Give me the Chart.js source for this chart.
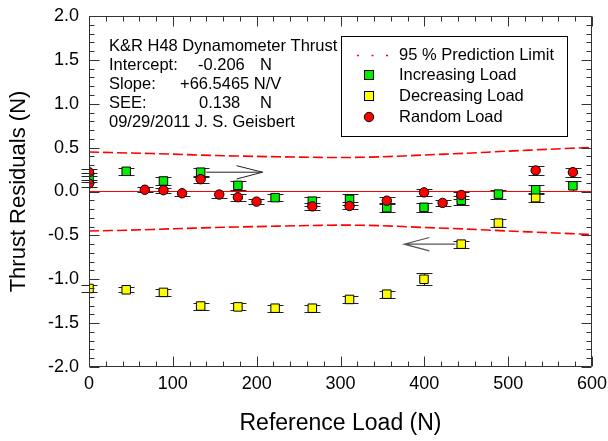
<!DOCTYPE html>
<html>
<head>
<meta charset="utf-8">
<script src="https://cdn.jsdelivr.net/npm/chart.js@4.4.1/dist/chart.umd.min.js"></script>
<style>
  html, body { margin: 0; padding: 0; background: #fff; }
</style>
</head>
<body>
<canvas id="thrustChart" width="608" height="441"></canvas>
<script>
// --- data ---
var incLoad  = [0, 44.4, 88.8, 133.2, 177.6, 222, 266.4, 310.8, 355.2, 399.6, 444, 488.4, 532.8, 577.2];
var incResid = [0.16, 0.23, 0.12, 0.22, 0.07, -0.07, -0.11, -0.09, -0.185, -0.18, -0.10, -0.03, 0.02, 0.065];
var incErr   = [0.05, 0.04, 0.05, 0.05, 0.05, 0.04, 0.05, 0.06, 0.05, 0.05, 0.05, 0.05, 0.05, 0.06];

var decLoad  = [0, 44.4, 88.8, 133.2, 177.6, 222, 266.4, 310.8, 355.2, 399.6, 444, 488.4, 532.8];
var decResid = [-1.105, -1.12, -1.15, -1.305, -1.315, -1.33, -1.33, -1.23, -1.17, -1.0, -0.6, -0.36, -0.07];
var decErr   = [0.04, 0.03, 0.04, 0.04, 0.04, 0.04, 0.04, 0.04, 0.04, 0.07, 0.04, 0.05, 0.05];

var randLoad  = [0, 0, 66.6, 88.8, 111, 133.2, 155.4, 177.6, 199.8, 266.4, 310.8, 355.2, 399.6, 421.8, 444, 532.8, 577.2];
var randResid = [0.22, 0.09, 0.02, 0.015, -0.02, 0.14, -0.035, -0.065, -0.115, -0.17, -0.165, -0.105, -0.01, -0.13, -0.04, 0.24, 0.22];
var randErr   = [0.04, 0.04, 0.03, 0.03, 0.03, 0.04, 0.04, 0.04, 0.03, 0.04, 0.04, 0.04, 0.04, 0.03, 0.04, 0.05, 0.05];

var limLoad  = [0, 50, 100, 150, 200, 250, 300, 350, 400, 450, 500, 550, 600];
var limUpper = [0.450, 0.438, 0.426, 0.410, 0.400, 0.392, 0.387, 0.396, 0.416, 0.436, 0.460, 0.482, 0.503];
var limLower = [-0.450, -0.440, -0.425, -0.410, -0.400, -0.390, -0.383, -0.390, -0.410, -0.428, -0.450, -0.470, -0.490];

var zeroLoad  = [0, 600];
var zeroResid = [0, 0];

// annotation arrows (null = pen up)
var arrow1X = [140, 207, null, 176, 207, 176];
var arrow1Y = [0.22, 0.22, null, 0.294, 0.22, 0.142];
var arrow2X = [437, 376, null, 406, 376, 406];
var arrow2Y = [-0.6, -0.6, null, -0.524, -0.6, -0.676];

var xTicks = [0, 100, 200, 300, 400, 500, 600];
var yTicks = [-2.0, -1.5, -1.0, -0.5, 0.0, 0.5, 1.0, 1.5, 2.0];

var noteLines = [
    ['K&R H48 Dynamometer Thrust'],
    ['Intercept:', '-0.206', 'N'],
    ['Slope:', '+66.5465 N/V'],
    ['SEE:', '0.138', 'N'],
    ['09/29/2011 J. S. Geisbert']
];
var legendLabels = ['95 % Prediction Limit', 'Increasing Load', 'Decreasing Load', 'Random Load'];

var FONT = "'Liberation Sans', Arial, Helvetica, sans-serif";

function pts(xs, ys) {
    return xs.map(function (x, i) {
        return { x: x === null ? 0 : x, y: ys[i] };
    });
}

// error bars drawn under the markers
var errorBars = {
    id: 'errorBars',
    beforeDatasetsDraw: function (chart) {
        var ctx = chart.ctx;
        var xs = chart.scales.x, ys = chart.scales.y;
        ctx.save();
        ctx.strokeStyle = '#222';
        ctx.lineWidth = 1;
        chart.data.datasets.forEach(function (ds) {
            if (!ds.errors) return;
            ds.data.forEach(function (p, i) {
                var px = Math.round(xs.getPixelForValue(p.x)) + 0.5;
                var top = Math.round(ys.getPixelForValue(p.y + ds.errors[i])) + 0.5;
                var bot = Math.round(ys.getPixelForValue(p.y - ds.errors[i])) + 0.5;
                ctx.beginPath();
                ctx.moveTo(px, top); ctx.lineTo(px, bot);
                ctx.moveTo(px - 8, top); ctx.lineTo(px + 8, top);
                ctx.moveTo(px - 8, bot); ctx.lineTo(px + 8, bot);
                ctx.stroke();
            });
        });
        ctx.restore();
    }
};

// frame with inward ticks on all four sides
var frameTicks = {
    id: 'frameTicks',
    afterDatasetsDraw: function (chart) {
        var ctx = chart.ctx, a = chart.chartArea;
        var xs = chart.scales.x, ys = chart.scales.y;
        ctx.save();
        ctx.strokeStyle = '#333';
        ctx.lineWidth = 1;
        ctx.beginPath();
        var L = Math.round(a.left) + 0.5, R = Math.round(a.right) - 0.5;
        var T = Math.round(a.top) + 0.5, B = Math.round(a.bottom) - 0.5;
        ctx.rect(L, T, R - L, B - T);
        var v, p, len;
        for (v = 0; v <= 600.001; v += 20) {
            p = Math.round(xs.getPixelForValue(v)) + 0.5;
            len = (Math.round(v) % 100 === 0) ? 10 : 5;
            ctx.moveTo(p, B); ctx.lineTo(p, B - len);
            ctx.moveTo(p, T); ctx.lineTo(p, T + len);
        }
        for (var k = -20; k <= 20; k++) {
            p = Math.round(ys.getPixelForValue(k / 10)) + 0.5;
            len = (k % 5 === 0) ? 10 : 5;
            ctx.moveTo(L, p); ctx.lineTo(L + len, p);
            ctx.moveTo(R, p); ctx.lineTo(R - len, p);
        }
        ctx.stroke();
        ctx.restore();
    }
};

// note text block and legend box
var notesAndLegend = {
    id: 'notesAndLegend',
    afterDraw: function (chart) {
        var ctx = chart.ctx;
        ctx.save();
        ctx.fillStyle = '#000';
        ctx.font = '16.5px ' + FONT;
        ctx.textBaseline = 'middle';
        var rowY = [46, 65, 84, 103, 122];
        var colX = {
            1: [109, 198, 260],
            2: [109, 180],
            3: [109, 199, 260]
        };
        noteLines.forEach(function (parts, r) {
            var cols = colX[r] || [109];
            parts.forEach(function (t, c) {
                ctx.fillText(t, cols[c], rowY[r]);
            });
        });

        // legend box
        ctx.fillStyle = '#fff';
        ctx.fillRect(341, 36, 226, 100);
        ctx.strokeStyle = '#000';
        ctx.lineWidth = 1;
        ctx.strokeRect(341.5, 36.5, 226, 100);

        var ly = [55, 75, 96, 117];
        var sx = 369;
        // dotted prediction limit symbol
        ctx.strokeStyle = '#ff0000';
        ctx.lineWidth = 1.5;
        [358, 372.5, 387].forEach(function (dx) {
            ctx.beginPath();
            ctx.moveTo(dx - 1, ly[0] + 0.5);
            ctx.lineTo(dx + 1, ly[0] + 0.5);
            ctx.stroke();
        });
        ctx.lineWidth = 1;
        ctx.strokeStyle = '#000';
        ctx.fillStyle = '#00ee00';
        ctx.fillRect(sx - 4, ly[1] - 4, 8, 8);
        ctx.strokeRect(sx - 4.5, ly[1] - 4.5, 9, 9);
        ctx.fillStyle = '#ffff00';
        ctx.fillRect(sx - 4, ly[2] - 4, 8, 8);
        ctx.strokeRect(sx - 4.5, ly[2] - 4.5, 9, 9);
        ctx.fillStyle = '#ff0000';
        ctx.beginPath();
        ctx.arc(sx, ly[3], 4.7, 0, Math.PI * 2);
        ctx.fill();
        ctx.stroke();

        ctx.fillStyle = '#000';
        legendLabels.forEach(function (t, i) {
            ctx.fillText(t, 399, ly[i]);
        });
        ctx.restore();
    }
};

var ctx = document.getElementById('thrustChart').getContext('2d');

new Chart(ctx, {
    type: 'scatter',
    data: {
        datasets: [{
            label: legendLabels[3],
            data: pts(randLoad, randResid),
            errors: randErr,
            pointStyle: 'circle',
            pointRadius: 4.7,
            backgroundColor: '#ff0000',
            borderColor: '#000',
            borderWidth: 1
        }, {
            label: legendLabels[1],
            data: pts(incLoad, incResid),
            errors: incErr,
            pointStyle: 'rect',
            pointRadius: 6,
            backgroundColor: '#00ee00',
            borderColor: '#000',
            borderWidth: 1
        }, {
            label: legendLabels[2],
            data: pts(decLoad, decResid),
            errors: decErr,
            pointStyle: 'rect',
            pointRadius: 6,
            backgroundColor: '#ffff00',
            borderColor: '#000',
            borderWidth: 1
        }, {
            label: 'arrow1',
            data: pts(arrow1X, arrow1Y),
            showLine: true,
            spanGaps: false,
            pointRadius: 0,
            borderColor: '#222',
            borderWidth: 1
        }, {
            label: 'arrow2',
            data: pts(arrow2X, arrow2Y),
            showLine: true,
            spanGaps: false,
            pointRadius: 0,
            borderColor: '#555',
            borderWidth: 1.2
        }, {
            label: 'upper',
            data: pts(limLoad, limUpper),
            showLine: true,
            pointRadius: 0,
            borderColor: '#ff0000',
            borderWidth: 1.6,
            borderDash: [10, 4],
            tension: 0.3
        }, {
            label: 'lower',
            data: pts(limLoad, limLower),
            showLine: true,
            pointRadius: 0,
            borderColor: '#ff0000',
            borderWidth: 1.6,
            borderDash: [10, 4],
            tension: 0.3
        }, {
            label: 'zero',
            data: pts(zeroLoad, zeroResid),
            showLine: true,
            pointRadius: 0,
            borderColor: '#ff0000',
            borderWidth: 1
        }]
    },
    options: {
        responsive: false,
        animation: false,
        layout: {
            padding: { top: 16, right: 16, left: 0, bottom: 0 }
        },
        plugins: {
            legend: { display: false },
            tooltip: { enabled: false }
        },
        scales: {
            x: {
                type: 'linear',
                min: 0,
                max: 600,
                afterFit: function (s) {
                    s.height = 74;
                    s.paddingLeft = 0;
                    s.paddingRight = 0;
                },
                afterBuildTicks: function (s) {
                    s.ticks = xTicks.map(function (v) { return { value: v }; });
                },
                grid: { display: false, drawTicks: false },
                border: { display: false },
                ticks: {
                    color: '#000',
                    padding: 6,
                    font: { family: FONT, size: 18 }
                },
                title: {
                    display: true,
                    text: 'Reference Load (N)',
                    color: '#000',
                    padding: { top: 0, bottom: 6 },
                    font: { family: FONT, size: 23, lineHeight: 1 }
                }
            },
            y: {
                min: -2,
                max: 2,
                afterFit: function (s) {
                    s.width = 89;
                    s.paddingTop = 0;
                    s.paddingBottom = 0;
                },
                afterBuildTicks: function (s) {
                    s.ticks = yTicks.map(function (v) { return { value: v }; });
                },
                grid: { display: false, drawTicks: false },
                border: { display: false },
                ticks: {
                    color: '#000',
                    padding: 10,
                    font: { family: FONT, size: 18 },
                    callback: function (value) {
                        return value.toFixed(1);
                    }
                },
                title: {
                    display: true,
                    text: 'Thrust Residuals (N)',
                    color: '#000',
                    padding: { top: 8, bottom: 0 },
                    font: { family: FONT, size: 22, lineHeight: 1 }
                }
            }
        }
    },
    plugins: [errorBars, frameTicks, notesAndLegend]
});
</script>
</body>
</html>
